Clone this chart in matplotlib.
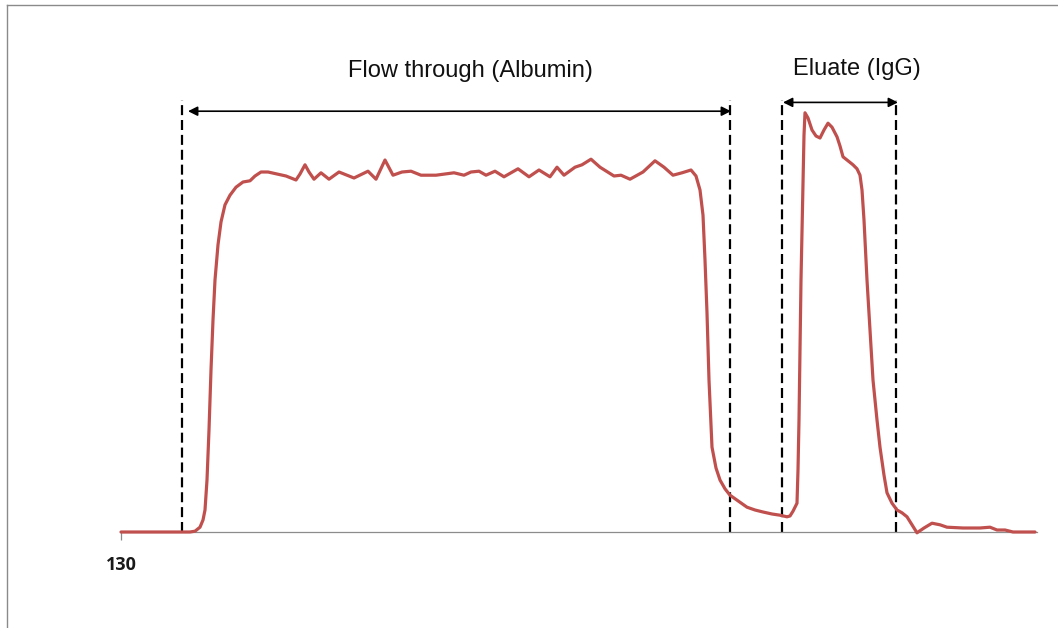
import matplotlib
matplotlib.use("Agg")
import matplotlib.pyplot as plt
from matplotlib.lines import Line2D

# Chromatogram trace: elution volume vs. absorbance
volume = [130.0, 132.9, 135.9, 136.9, 137.4, 137.9, 138.2, 138.4, 138.6, 138.8,
          139.0, 139.2, 139.4, 139.7, 140.0, 140.4, 140.9, 141.5, 142.2, 142.9,
          143.4, 144.0, 144.7, 145.6, 146.5, 147.5, 147.9, 148.4, 148.8, 149.3,
          150.0, 150.8, 151.8, 153.3, 154.7, 155.5, 156.4, 157.2, 158.1, 159.0,
          160.0, 161.5, 163.3, 164.3, 165.0, 165.8, 166.5, 167.4, 168.3, 169.7,
          170.8, 171.8, 172.9, 173.6, 174.3, 175.4, 176.1, 177.0, 177.9, 179.3,
          180.0, 180.9, 182.2, 183.4, 184.3, 185.2, 186.1, 187.0, 187.5, 187.9,
          188.2, 188.4, 188.6, 188.8, 189.1, 189.5, 189.9, 190.4, 190.9, 191.7,
          192.6, 193.4, 194.2, 195.1, 195.9, 196.6, 196.9, 197.2, 197.6, 197.7,
          197.8, 197.9, 198.0, 198.2, 198.3, 198.4, 198.7, 199.1, 199.5, 199.9,
          200.3, 200.7, 201.1, 201.6, 201.9, 202.2, 202.7, 203.2, 203.6, 203.9,
          204.1, 204.3, 204.6, 204.9, 205.2, 205.6, 205.9, 206.3, 206.6, 207.1,
          207.6, 208.1, 208.6, 209.1, 209.6, 210.3, 211.1, 211.9, 212.6, 214.2,
          215.9, 216.9, 217.6, 218.4, 219.2, 221.4]
absorbance = [0.0, 0.0, 0.0, 0.0, 0.2, 1.2, 3.0, 5.5, 13.0, 25.5,
              40.5, 53.0, 63.0, 71.8, 77.5, 81.8, 84.2, 86.2, 87.5, 87.8,
              89.0, 90.0, 90.0, 89.5, 89.0, 88.0, 89.5, 91.8, 90.0, 88.2,
              89.8, 88.2, 90.0, 88.5, 90.2, 88.2, 93.0, 89.2, 90.0, 90.2,
              89.2, 89.2, 89.8, 89.2, 90.0, 90.2, 89.2, 90.2, 88.8, 90.8,
              88.8, 90.5, 88.8, 91.2, 89.2, 91.2, 91.8, 93.2, 91.2, 89.0,
              89.2, 88.2, 90.0, 92.8, 91.2, 89.2, 89.8, 90.5, 89.0, 85.5,
              79.2, 68.0, 54.8, 38.0, 21.2, 16.0, 13.0, 10.8, 9.2, 7.8,
              6.2, 5.5, 5.0, 4.5, 4.2, 3.8, 4.0, 5.2, 7.2, 15.5,
              28.0, 46.2, 63.0, 88.0, 99.2, 104.8, 103.5, 100.5, 99.0, 98.5,
              100.5, 102.2, 101.2, 98.8, 96.5, 93.8, 92.8, 91.8, 90.8, 89.2,
              85.5, 78.0, 63.0, 50.5, 38.0, 28.0, 21.2, 14.2, 9.8, 7.2,
              5.5, 4.8, 3.8, 1.8, -0.2, 1.0, 2.2, 1.8, 1.2, 1.0,
              1.0, 1.2, 0.5, 0.5, 0.0, 0.0]

# Fraction boundaries and labels
fraction_labels = ["Flow through (Albumin)", "Eluate (IgG)"]
fraction_bounds = [(136.1, 190.9), (196.1, 207.5)]
arrow_spans = [(136.7, 191.0), (196.2, 207.7)]
arrow_levels = [105.2, 107.4]
label_pos = [(164.9, 115.2), (203.6, 115.8)]
boundary_top = 108.0

tick_values = [130]
tick_labels = ["130"]

W, H = 1058, 628
fig = plt.figure(figsize=(W / 100, H / 100), dpi=100)
fig.patch.set_facecolor("white")

ax = fig.add_axes([121 / W, (H - 532) / H, 916 / W, 420 / H])
ax.set_xlim(130, 221.6)
ax.set_ylim(0, 105)
ax.set_facecolor("none")

for side in ("top", "right", "left"):
    ax.spines[side].set_visible(False)
ax.spines["bottom"].set_color("#8c8c8c")
ax.spines["bottom"].set_linewidth(0.9)
ax.set_yticks([])
ax.set_xticks(tick_values)
ax.set_xticklabels(tick_labels, fontfamily="Open Sans", fontweight="bold",
                   fontsize=13, color="#1a1a1a")
ax.tick_params(axis="x", direction="out", length=5.5, width=0.9,
               color="#8c8c8c", pad=12)

# Fraction boundary markers
for lo, hi in fraction_bounds:
    for xb in (lo, hi):
        ax.plot([xb, xb], [0, boundary_top], color="black", lw=1.6,
                dashes=(4.5, 2.2), clip_on=False, zorder=2)

# Trace
ax.plot(volume, absorbance, color="#c0504d", lw=2.3, clip_on=False,
        solid_joinstyle="round", solid_capstyle="round", zorder=3)

# Fraction arrows and labels
for (a0, a1), yl, (tx, ty), lab in zip(arrow_spans, arrow_levels, label_pos,
                                       fraction_labels):
    ax.annotate("", xy=(a1, yl), xytext=(a0, yl),
                arrowprops=dict(arrowstyle="<|-|>", color="black", lw=1.2,
                                mutation_scale=14, shrinkA=0, shrinkB=0),
                annotation_clip=False)
    ax.text(tx, ty, lab, ha="center", va="center", fontsize=17,
            fontfamily="Liberation Sans", color="#111111", clip_on=False)

# Outer frame edges
fig.add_artist(Line2D([7 / W, 1.0], [(H - 5) / H, (H - 5) / H],
                      transform=fig.transFigure, color="#8a8a8a", lw=1.0))
fig.add_artist(Line2D([7 / W, 7 / W], [0, (H - 5) / H],
                      transform=fig.transFigure, color="#8a8a8a", lw=1.0))

fig.savefig("out.png", dpi=100, facecolor="white")
